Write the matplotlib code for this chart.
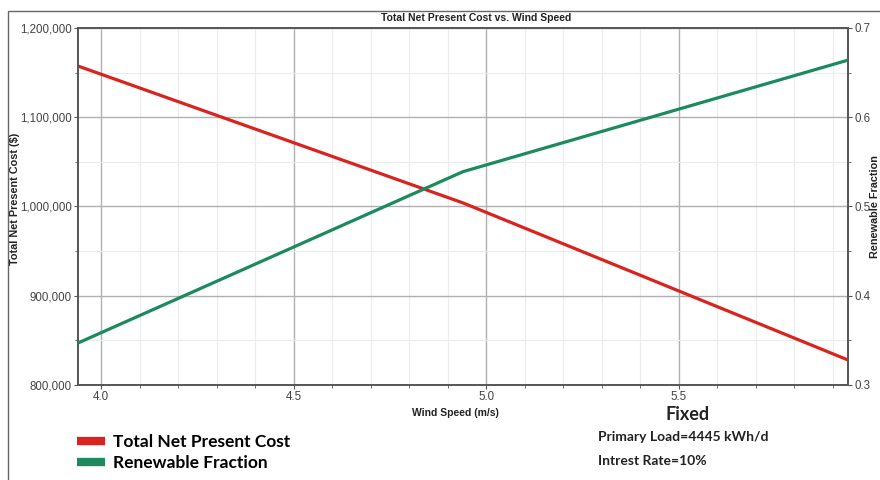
import matplotlib
matplotlib.use("Agg")
import matplotlib.pyplot as plt
from matplotlib.ticker import MultipleLocator, FuncFormatter
from matplotlib.patches import Rectangle
from matplotlib.lines import Line2D

# Sensitivity results
wind_speed = [3.94, 4.94, 5.94]
total_npc = [1157400, 1004000, 828000]
renewable_fraction = [0.347, 0.539, 0.664]

legend_labels = ["Total Net Present Cost", "Renewable Fraction"]
fixed_notes = ["Primary Load=4445 kWh/d", "Intrest Rate=10%"]

red = "#d8231f"
green = "#1b8a5c"
tick_col = "#444444"

plt.rcParams['font.family'] = ['Liberation Sans', 'DejaVu Sans']

fig = plt.figure(figsize=(8.8, 4.8), dpi=100)
ax = fig.add_axes([0.0886, 0.198, 0.875, 0.7437])

ax.plot(wind_speed, total_npc, color=red, lw=2.3, zorder=3)
ax.set_xlim(3.94, 5.94)
ax.set_ylim(800000, 1200000)
ax.xaxis.set_major_locator(MultipleLocator(0.5))
ax.xaxis.set_minor_locator(MultipleLocator(0.1))
ax.yaxis.set_major_locator(MultipleLocator(100000))
ax.yaxis.set_minor_locator(MultipleLocator(50000))
ax.xaxis.set_major_formatter(FuncFormatter(lambda v, p: f"{v:.1f}"))
ax.yaxis.set_major_formatter(FuncFormatter(lambda v, p: f"{int(v):,}"))
ax.grid(which='major', color='#b0b0b0', lw=1.0)
ax.grid(which='minor', color='#ececec', lw=0.8)
ax.set_axisbelow(True)

ax2 = ax.twinx()
ax2.plot(wind_speed, renewable_fraction, color=green, lw=2.3, zorder=3)
ax2.set_ylim(0.3, 0.7)
ax2.yaxis.set_major_locator(MultipleLocator(0.1))
ax2.yaxis.set_minor_locator(MultipleLocator(0.05))
ax2.yaxis.set_major_formatter(FuncFormatter(lambda v, p: f"{v:.1f}"))

for a in (ax, ax2):
    a.tick_params(which='both', direction='out', colors='#555555', labelcolor=tick_col, labelsize=8.3)
    a.tick_params(which='major', length=3, pad=1.5)
    a.tick_params(which='minor', length=2)
    for s in a.spines.values():
        s.set_color('#555555')
        s.set_linewidth(1.2)

fig.text(476 / 880, 1 - 18 / 480, "Total Net Present Cost vs. Wind Speed", fontsize=7.5,
         fontweight='bold', ha='center', va='center', color='#222222')
ax.set_xlabel("Wind Speed (m/s)", fontsize=7.5, fontweight='bold', color='#222222')
ax.xaxis.set_label_coords((455 - 78) / 770, -0.065)
ax.set_ylabel("Total Net Present Cost ($)", fontsize=7.8, fontweight='bold', color='#222222')
ax.yaxis.set_label_coords((20 - 78) / 770, 0.52)
ax2.set_ylabel("Renewable Fraction", fontsize=7.8, fontweight='bold', rotation=90, color='#222222')
ax2.yaxis.set_label_coords((870 - 78) / 770, 0.5)

# outer frame
fig.patches.append(Rectangle((8 / 880, -0.1), 1.2, 1.1 - 11 / 480, transform=fig.transFigure,
                             fill=False, ec='#666666', lw=1.0))

# legend
handles = [Line2D([], [], color=red, lw=6, solid_capstyle='butt'),
           Line2D([], [], color=green, lw=6, solid_capstyle='butt')]
fig.legend(handles, legend_labels, loc='center left', bbox_to_anchor=(0.088, 0.057),
           frameon=False, handlelength=1.6, handletextpad=0.45, labelspacing=0.3,
           borderpad=0, borderaxespad=0,
           prop={'family': 'Lato', 'weight': 'bold', 'size': 12.5})

fig.text(688 / 880, 1 - 415 / 480, "Fixed", fontsize=13, fontweight='bold', family='Lato',
         ha='center', va='center', color='#222222')
fig.text(598 / 880, 1 - 437 / 480, fixed_notes[0], fontsize=10, fontweight='bold', family='Lato',
         va='center', color='#222222')
fig.text(598 / 880, 1 - 461 / 480, fixed_notes[1], fontsize=10, fontweight='bold', family='Lato',
         va='center', color='#222222')

fig.savefig("out.png", dpi=100)
